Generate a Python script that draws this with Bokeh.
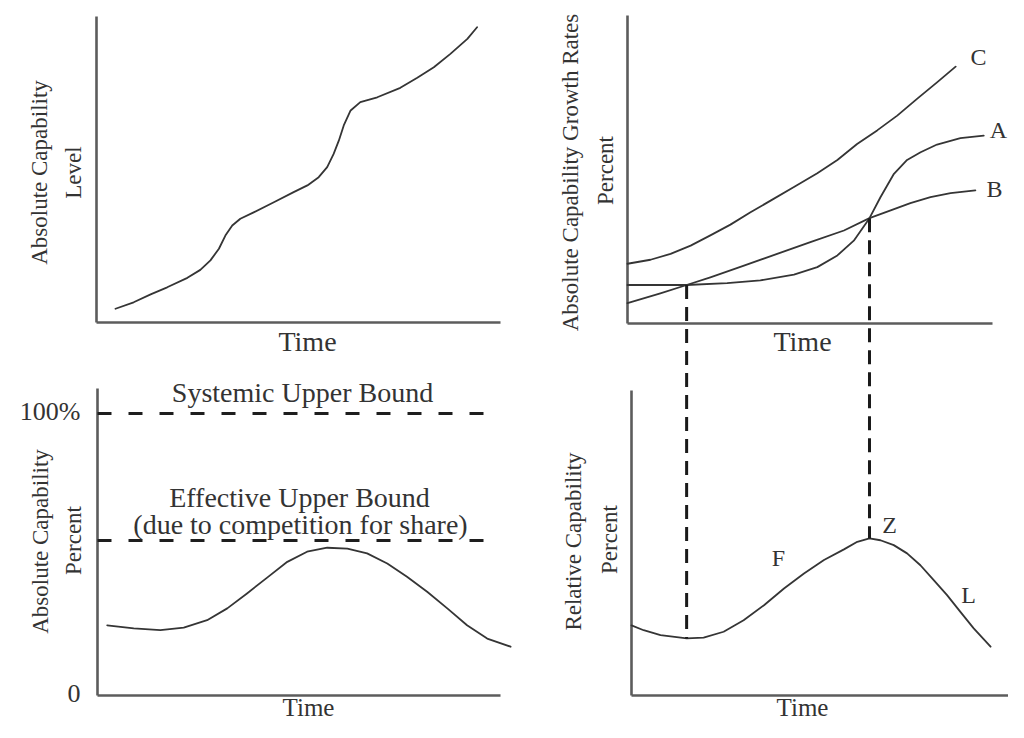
import numpy as np
from bokeh.plotting import figure
from bokeh.models import Range1d
from bokeh.core.properties import value
from bokeh.embed import file_html
from bokeh.resources import INLINE

# ---------------- data (panel units: time 0..100, value 0..100) ----------------
# Top-left: absolute capability level
tl_time = [4.7, 9.2, 13.4, 17.5, 22.5, 25.7, 28.2, 30.3, 31.9, 33.6, 35.6, 38.9, 43.9,
           48.8, 52.2, 55.0, 57.1, 58.7, 60.0, 61.2, 62.9, 65.3, 69.5, 75.2, 79.4,
           83.5, 87.6, 91.8, 94.2]
tl_level = [4.5, 6.6, 9.2, 11.5, 14.6, 17.2, 20.3, 24.1, 28.4, 31.7, 33.9, 36.0, 39.3,
            42.6, 44.8, 47.5, 50.8, 55.1, 59.5, 64.4, 69.3, 72.0, 73.6, 76.7, 80.0,
            83.4, 87.8, 92.7, 96.5]

# Top-right: growth rates of A, B, C
tr_time_c = [0.0, 6.3, 11.8, 17.3, 22.7, 28.2, 33.7, 39.2, 45.6, 52.0, 57.5, 62.9,
             68.4, 73.9, 79.4, 84.8, 89.9]
tr_c = [19.4, 20.7, 22.6, 25.3, 28.6, 32.1, 36.1, 39.9, 44.3, 48.8, 53.1, 58.3,
        62.7, 67.5, 73.0, 78.3, 83.4]

tr_time_a = [0.0, 16.2, 27.3, 36.4, 45.6, 52.0, 57.5, 62.0, 66.3, 69.3, 73.0, 76.6,
             80.3, 84.8, 91.2, 97.6]
tr_a = [12.5, 12.5, 13.1, 14.0, 15.9, 18.3, 22.1, 26.9, 34.2, 41.0, 48.6, 53.1,
        55.6, 58.1, 60.2, 61.0]

tr_time_b = [0.0, 9.0, 16.2, 22.7, 31.9, 41.0, 50.1, 59.3, 66.3, 72.1, 77.5, 83.0,
             88.5, 95.3]
tr_b = [6.6, 9.8, 12.5, 15.0, 18.8, 22.6, 26.4, 30.2, 34.2, 36.7, 39.1, 41.0,
        42.3, 43.2]

series_labels = ["C", "A", "B"]

# Bottom-left: absolute capability percent
bl_time = [2.4, 9.0, 15.6, 21.4, 27.2, 32.2, 37.1, 42.1, 47.1, 52.0, 57.0, 62.0,
           66.9, 71.9, 76.8, 81.8, 86.8, 91.7, 96.7, 102.5]
bl_share = [24.9, 23.8, 23.2, 24.1, 26.7, 30.9, 36.2, 41.8, 47.4, 51.0, 52.4, 52.1,
            50.4, 46.8, 42.1, 36.8, 30.9, 24.9, 20.2, 17.3]
systemic_bound = 100
effective_bound = 55
bl_ticks = [0, 100]
bl_tick_labels = ["0", "100%"]

# Bottom-right: relative capability percent
br_time = [0.0, 3.1, 7.4, 14.1, 18.4, 23.5, 28.6, 33.8, 38.9, 44.0, 49.1, 54.2,
           57.6, 60.7, 63.5, 66.9, 70.3, 73.7, 77.1, 80.5, 83.9, 87.3, 91.6]
br_rel = [23.0, 21.4, 19.8, 18.7, 19.0, 20.9, 24.7, 29.6, 35.1, 40.0, 44.4, 47.9,
          50.4, 51.5, 50.9, 49.3, 46.6, 42.7, 37.8, 32.9, 27.4, 22.0, 16.0]
phase_labels = ["F", "Z", "L"]

# crossing times (top-right panel) that project onto the bottom-right curve
cross_times = [16.2, 66.3]

# ---------------- layout ----------------
W, H = 1008, 722
OX, OY = 0, 0
D = 17  # bottom row lifted so that its "Time" labels fit in the canvas
PANELS = {
    "tl": dict(x0=96, x100=500, y0=322, y100=16, ytop=16),
    "tr": dict(x0=627, x100=992, y0=323, y100=15, ytop=15),
    "bl": dict(x0=97, x100=500, y0=712 - D, y100=430 - D, ytop=405 - D),
    "br": dict(x0=631, x100=1023, y0=712 - D, y100=407 - D, ytop=407 - D),
}
BASE_FIX = -9  # alphabetic baseline correction of the svg text


def sx(name):
    d = PANELS[name]
    return (d["x100"] - d["x0"]) / 100.0


def sy(name):
    d = PANELS[name]
    return (d["y0"] - d["y100"]) / 100.0


p = figure(width=W, height=H, x_range=Range1d(OX, OX + W), y_range=Range1d(OY + H, OY),
           output_backend="svg", toolbar_location=None, x_axis_location=None,
           y_axis_location=None, title_location=None, min_border=0,
           outline_line_color=None, background_fill_color="white",
           border_fill_color="white")
p.grid.visible = False

xr, yr = {}, {}
for name, d in PANELS.items():
    xr[name] = Range1d((OX - d["x0"]) / sx(name), (OX + W - d["x0"]) / sx(name))
    yr[name] = Range1d((d["y0"] - (OY + H)) / sy(name), (d["y0"] - OY) / sy(name))
p.extra_x_ranges = xr
p.extra_y_ranges = yr

AXIS_COLOR = "#5c5c5c"
CURVE_COLOR = "#353535"
TEXT_COLOR = "#333333"
FONT = value("Liberation Serif")

# axes of each panel
for name, d in PANELS.items():
    top = (d["y0"] - d["ytop"]) / sy(name)
    p.line([0, 0], [0, top], x_range_name=name, y_range_name=name,
           line_color=AXIS_COLOR, line_width=2.6)
    p.line([0, 100], [0, 0], x_range_name=name, y_range_name=name,
           line_color=AXIS_COLOR, line_width=2.6)


def curve(name, t, v):
    p.line(t, v, x_range_name=name, y_range_name=name, line_color=CURVE_COLOR,
           line_width=1.8, line_join="round", line_cap="round")


curve("tl", tl_time, tl_level)
curve("tr", tr_time_c, tr_c)
curve("tr", tr_time_a, tr_a)
curve("tr", tr_time_b, tr_b)
curve("bl", bl_time, bl_share)
curve("br", br_time, br_rel)

# bounds in bottom-left
for b in [systemic_bound, effective_bound]:
    p.line([0, 100], [b, b], x_range_name="bl", y_range_name="bl",
           line_color="#1e1e1e", line_width=3, line_dash="14 17")

# vertical projections from top-right crossings to bottom-right curve
for t in cross_times:
    top_v = float(np.interp(t, tr_time_a, tr_a))
    X = PANELS["tr"]["x0"] + t * sx("tr")
    tb = (X - PANELS["br"]["x0"]) / sx("br")
    bot_v = float(np.interp(tb, br_time, br_rel))
    y_top = PANELS["tr"]["y0"] - top_v * sy("tr")
    y_bot = PANELS["br"]["y0"] - bot_v * sy("br")
    p.line([t, t], [y_top, y_bot], x_range_name="tr", line_color="#1a1a1a",
           line_width=3, line_dash="14 8")


# ---------------- texts ----------------
def htext(x, y, s, size, align="center"):
    p.text(x=[x], y=[y + BASE_FIX], text=[s], text_font=FONT, text_font_size=value(size),
           text_color=TEXT_COLOR, text_align=align, text_baseline="alphabetic")


def vtext(x, y, s, size):
    p.text(x=[x], y=[y], text=[s], text_font=FONT, text_font_size=value(size),
           text_color=TEXT_COLOR, text_align="center", text_baseline="middle",
           angle=np.pi / 2)


H_SIZE = "28px"
V_SIZE = "23px"
L_SIZE = "24px"

# axis titles (alphabetic baselines)
htext(307, 350, "Time", H_SIZE)
htext(802, 350, "Time", H_SIZE)
htext(308, 716, "Time", "25px")
htext(802, 716, "Time", "25px")

vtext(39, 172, "Absolute Capability", V_SIZE)
vtext(73, 172, "Level", V_SIZE)
vtext(570, 172, "Absolute Capability Growth Rates", V_SIZE)
vtext(605, 170, "Percent", V_SIZE)
vtext(40, 558 - D, "Absolute Capability", V_SIZE)
vtext(73, 557 - D, "Percent", V_SIZE)
vtext(573, 558 - D, "Relative Capability", V_SIZE)
vtext(609, 556 - D, "Percent", V_SIZE)

# bottom-left tick labels
for v, lab in zip(bl_ticks, bl_tick_labels):
    ys = PANELS["bl"]["y0"] - v * sy("bl")
    p.text(x=[80], y=[ys - 2], text=[lab], text_font=FONT, text_font_size=value("26px"),
           text_color=TEXT_COLOR, text_align="right", text_baseline="middle")

htext(302, 418 - D, "Systemic Upper Bound", H_SIZE)
htext(299, 523 - D, "Effective Upper Bound", H_SIZE)
htext(300, 550 - D, "(due to competition for share)", H_SIZE)

# series labels
for lab, (x, y) in zip(series_labels, [(978, 65), (998, 138), (994, 197)]):
    htext(x, y, lab, L_SIZE)
for lab, (x, y) in zip(phase_labels, [(778, 583 - D), (889, 550 - D), (968, 620 - D)]):
    htext(x, y, lab, L_SIZE)

open("out.html", "w").write(file_html(p, INLINE))
